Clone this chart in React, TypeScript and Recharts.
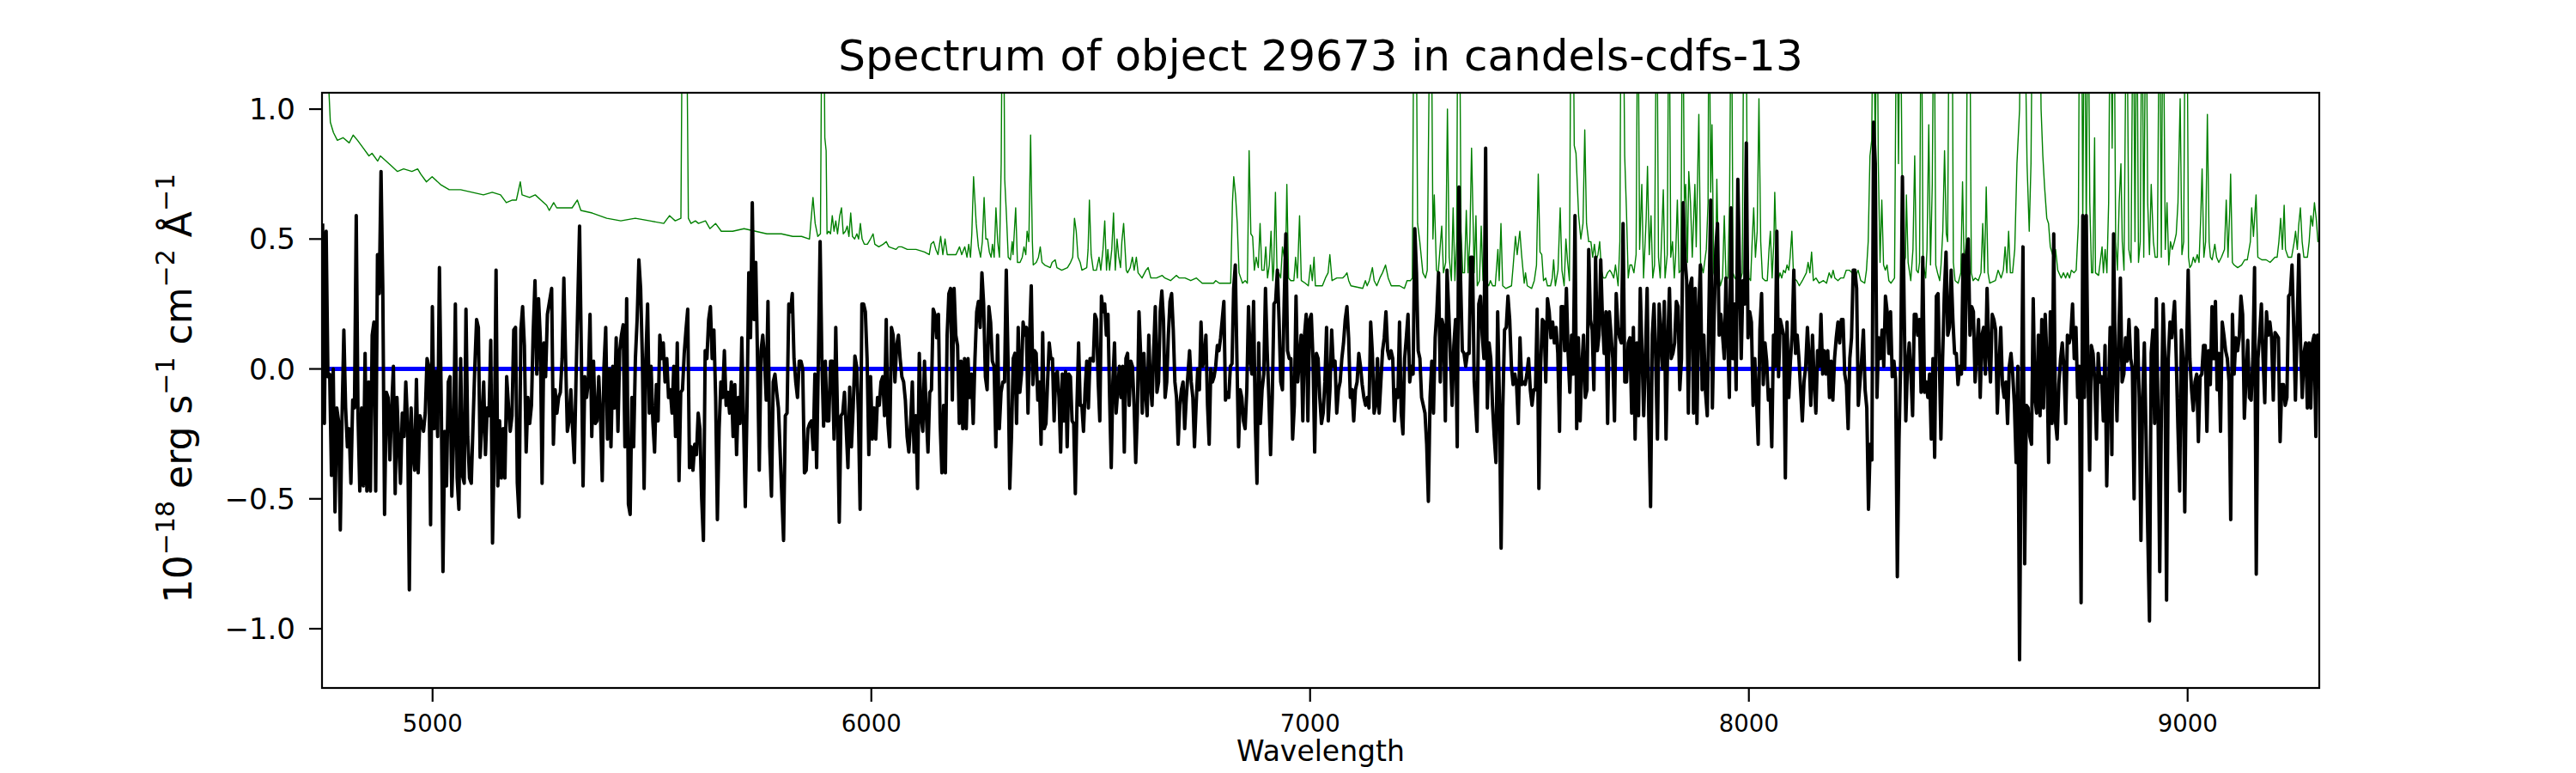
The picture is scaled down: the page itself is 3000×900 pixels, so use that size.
import { LineChart, Line, XAxis, YAxis } from "recharts"

// wavelength span covered by each block of flux samples (Angstrom)
const blackRanges = [
  [4749.4, 5261.7],
  [5271.4, 5788.3],
  [5800.0, 6323.4],
  [6327.3, 6848.1],
  [6851.9, 7374.0],
  [7380.5, 7909.1],
  [7913.0, 8431.2],
  [8437.7, 8963.7],
  [8970.2, 9300.0],
]

// observed flux, 1e-18 erg/s/cm2/A
const blackA = [0.56,-0.21,0.53,-0.03,-0.02,-0.41,0.00,-0.55,-0.15,-0.20,-0.62,-0.18,0.15,-0.15,-0.30,-0.23,-0.44,-0.12,-0.15,0.59,-0.18,-0.47,-0.15,-0.45,0.06,-0.47,-0.05,-0.47,0.13,0.18,-0.47,0.44,0.29,0.76,0.31,-0.56,-0.09,-0.11,-0.35,-0.15,0.01,-0.48,-0.11,-0.29,-0.44,-0.17,-0.26,-0.05,-0.21,-0.85,-0.15,-0.32,-0.39,-0.04,-0.40,-0.18,-0.21,-0.24,-0.17,0.04,0.01,-0.60,0.24,-0.23,-0.01,-0.26,0.39,-0.11,-0.78,-0.24,-0.45,-0.05,-0.03,-0.49,-0.27,0.25,-0.42,-0.54,0.04,-0.41,-0.44,0.23,-0.26,-0.42,-0.44,-0.21,0.01,0.19,0.16,-0.34,-0.21,-0.05,-0.33,-0.15,-0.18,0.11,-0.67,-0.29,0.38,-0.45,-0.20,-0.42,-0.23,-0.42,-0.03,-0.14,-0.24,-0.18,0.15,0.16,-0.44,-0.57,0.15,0.24,0.09,-0.32,-0.11,-0.21,-0.14,0.15,0.34,-0.02,0.27,0.12,-0.44,0.10,-0.03,0.21]
const blackB = [0.31,-0.29,-0.08,-0.17,-0.11,-0.09,0.04,0.35,0.04,-0.24,-0.20,-0.08,-0.23,-0.36,-0.03,0.26,0.55,0.07,-0.45,-0.03,-0.11,-0.05,0.21,-0.26,0.03,-0.21,-0.20,-0.03,-0.18,-0.43,0.01,0.16,-0.27,0.00,-0.30,0.01,-0.15,0.12,-0.24,0.07,0.13,0.17,-0.30,0.27,-0.52,-0.56,-0.11,-0.30,0.04,0.19,0.42,0.31,0.04,-0.46,0.04,0.25,-0.17,0.01,-0.20,-0.32,-0.06,-0.20,0.13,0.04,0.10,-0.05,0.04,-0.11,-0.08,-0.17,0.01,-0.26,0.10,-0.43,-0.09,-0.08,0.06,0.15,0.23,-0.38,-0.30,-0.39,-0.29,-0.33,-0.17,-0.23,-0.50,-0.66,0.07,0.04,0.19,0.24,0.04,0.15,-0.11,-0.58,-0.23,-0.05,-0.11,0.07,-0.14,-0.09,-0.17,-0.05,-0.26,-0.06,-0.33,-0.11,-0.21,0.12,-0.20,-0.53,-0.14,0.37,0.12,0.64,0.19,0.41,0.04,-0.39,0.07,0.13,0.04,-0.12,0.26,-0.30,-0.49,-0.05,-0.02,-0.09,-0.15]
const blackC = [-0.66,-0.18,-0.17,0.25,0.22,0.29,0.04,-0.05,-0.11,0.03,0.03,0.00,-0.40,-0.39,-0.23,-0.21,-0.20,-0.31,-0.02,-0.38,0.04,0.49,0.04,-0.22,0.03,-0.20,-0.20,0.03,0.03,-0.27,0.16,-0.18,-0.59,-0.18,-0.17,-0.09,-0.23,-0.38,-0.07,-0.30,-0.15,0.05,0.01,-0.17,-0.54,0.25,0.25,0.22,0.04,-0.33,-0.03,-0.27,-0.15,-0.27,-0.11,-0.14,-0.05,-0.03,-0.18,0.19,-0.21,-0.30,0.16,0.13,-0.05,0.09,0.13,0.04,-0.03,-0.05,-0.12,-0.26,-0.32,-0.21,-0.05,-0.32,-0.18,-0.46,0.06,-0.18,-0.24,0.03,-0.17,-0.32,-0.09,-0.08,0.23,0.21,0.12,0.21,-0.21,-0.40,-0.14,-0.40,0.13,0.29,0.31,-0.12,0.31,0.13,0.09,-0.21,0.03,-0.23,0.04,-0.23,0.04,-0.11,-0.02,-0.21,0.04,0.22,0.26,0.16,0.37,0.25,-0.03,-0.08,0.24,0.18,0.03,0.01,-0.30,0.13,-0.23,-0.09,-0.05,-0.05,0.38,0.04,-0.46,-0.26,0.04]
const blackD = [0.06,-0.21,0.16,-0.09,-0.02,0.18,0.13,0.16,-0.17,0.13,0.32,-0.06,0.07,0.06,-0.12,-0.05,-0.29,0.14,-0.23,-0.21,-0.05,0.10,0.04,0.04,-0.20,-0.02,-0.01,-0.11,-0.32,-0.02,-0.20,-0.01,-0.30,-0.02,-0.03,-0.20,-0.21,-0.48,-0.14,0.10,-0.14,-0.14,-0.24,-0.08,0.03,-0.15,0.04,0.04,0.03,0.21,0.19,-0.05,-0.20,0.28,0.22,0.25,0.13,0.21,-0.11,-0.38,-0.05,0.10,-0.17,-0.08,0.01,-0.11,0.01,-0.32,0.04,0.06,-0.14,0.03,0.01,-0.14,-0.36,-0.17,0.22,0.06,-0.17,0.06,-0.09,-0.18,0.13,-0.06,-0.14,0.07,0.24,-0.09,-0.05,0.22,0.30,0.19,-0.11,-0.05,0.13,0.26,0.29,0.15,-0.05,-0.11,-0.29,-0.14,-0.08,-0.05,-0.23,-0.11,-0.02,0.07,-0.05,-0.11,-0.30,-0.14,0.00,-0.08,0.18,0.01,0.04,0.13,-0.14,-0.29,0.00,-0.05,-0.03,0.01,0.09,0.07,0.12,0.19,0.26,-0.12,-0.09,-0.11,0.01,0.02,0.31,0.40,0.04,-0.30,-0.08,-0.11,-0.20]
const blackE = [-0.23,-0.08,0.24,0.04,-0.02,0.26,-0.21,-0.44,0.10,-0.21,-0.08,-0.02,0.31,0.07,-0.11,-0.33,-0.11,0.25,0.26,0.38,0.19,-0.05,-0.08,0.25,0.52,0.07,0.04,0.04,-0.27,-0.14,0.28,-0.05,0.04,0.13,-0.20,0.13,0.21,-0.20,0.19,0.21,0.04,-0.32,0.06,0.04,-0.11,-0.21,-0.17,-0.05,0.16,-0.20,-0.08,0.15,0.01,0.03,-0.17,-0.08,-0.05,0.04,0.10,0.19,0.24,0.12,-0.11,-0.08,-0.20,-0.08,-0.05,0.06,0.01,-0.06,-0.11,-0.14,-0.11,-0.15,0.18,0.06,-0.17,-0.14,0.04,-0.17,-0.05,0.07,0.12,0.22,0.07,0.04,0.07,0.04,-0.20,-0.08,-0.11,0.18,-0.17,-0.25,0.04,0.12,0.21,-0.05,0.01,-0.02,0.54,0.37,0.07,0.04,-0.11,-0.14,-0.17,-0.29,-0.51,-0.11,0.03,-0.17,0.12,0.22,0.37,-0.05,0.19,0.16,-0.20,0.38,0.22,0.04,-0.14,0.09,0.19,-0.30,0.70,0.34,0.07,0.06,0.01,0.06,0.06,0.43,0.43,-0.05]
const blackF = [-0.24,0.25,0.28,0.13,0.04,0.85,-0.15,0.10,0.04,-0.14,-0.26,-0.36,0.22,-0.11,-0.69,-0.15,0.15,0.16,0.28,0.19,0.01,-0.06,-0.02,-0.06,-0.21,0.12,-0.06,-0.05,-0.06,-0.02,0.04,-0.08,-0.14,-0.08,-0.08,0.23,-0.46,0.01,0.19,0.18,-0.05,0.27,0.22,0.12,0.18,0.10,0.16,0.06,-0.24,0.24,0.24,0.07,0.31,0.06,-0.09,0.13,-0.02,0.59,-0.23,0.12,-0.20,0.01,0.13,-0.11,-0.08,0.46,0.19,0.15,-0.08,0.43,0.07,0.13,0.42,0.19,0.06,0.22,-0.21,0.22,0.13,0.04,-0.20,0.29,0.16,0.12,0.10,0.56,-0.05,-0.05,0.10,0.12,-0.17,0.16,-0.27,0.10,-0.18,0.31,0.07,-0.18,0.04,0.31,-0.20,-0.53,0.13,0.25,0.04,-0.27,0.25,0.13,0.00,0.26,-0.27,0.10,0.31,0.04,0.06,0.10,0.26,0.24,-0.08,0.04,0.64,0.43,0.34,-0.17,0.32,0.35,-0.17,0.31,-0.21,0.22,0.40,-0.08,0.13,-0.09,-0.18,0.24]
const blackG = [0.65,-0.15,0.19,0.46,0.56,0.13,0.21,0.13,0.04,0.35,0.12,-0.11,0.62,0.04,0.25,-0.08,0.73,0.37,0.04,0.34,0.25,0.87,0.12,0.22,0.18,-0.14,0.04,-0.11,-0.29,0.15,0.29,-0.06,0.10,0.03,-0.12,-0.08,-0.30,0.13,0.01,0.53,-0.03,0.19,0.16,0.13,-0.42,0.18,-0.11,0.03,0.13,0.38,0.06,0.13,0.04,-0.08,-0.20,-0.05,0.01,0.16,0.04,-0.14,0.13,-0.05,-0.17,0.07,0.01,0.21,-0.02,0.07,-0.02,0.07,-0.11,0.03,-0.12,0.04,0.12,0.18,0.10,0.19,0.19,-0.02,-0.06,-0.23,0.04,0.12,0.38,0.38,0.31,-0.14,-0.05,0.04,0.15,-0.08,-0.15,-0.54,-0.29,-0.35,0.95,0.79,-0.11,0.12,0.04,0.15,0.01,0.28,0.22,0.06,0.22,-0.03,0.03,-0.04,-0.80,-0.27,0.04,0.74,0.24,-0.20,0.01,0.10,-0.02,-0.18,0.21,0.21,0.13,0.19,-0.09,0.43,-0.09,-0.05,-0.11,-0.02,-0.27,0.04,-0.34,0.28,0.29]
const blackH = [-0.27,0.04,0.29,0.45,0.13,0.16,0.38,0.19,0.06,0.06,-0.06,0.01,-0.02,0.44,0.00,0.44,0.50,0.13,0.24,0.22,-0.05,0.07,0.19,-0.11,0.13,0.16,-0.02,0.31,0.07,-0.05,0.21,0.19,0.15,-0.17,0.01,0.16,-0.06,-0.11,-0.05,-0.21,0.01,0.06,-0.02,-0.14,-0.36,0.01,-1.12,-0.21,0.47,-0.75,-0.14,-0.15,-0.26,-0.29,0.27,-0.11,-0.17,0.13,-0.18,0.19,-0.15,0.21,0.04,-0.36,0.22,-0.21,0.52,-0.20,-0.27,-0.06,0.04,0.10,0.00,-0.21,0.13,0.10,0.13,0.25,0.04,0.16,-0.11,0.01,-0.90,0.59,-0.11,0.59,0.00,-0.39,0.09,0.06,-0.05,-0.27,0.06,-0.05,-0.03,-0.20,0.09,-0.45,-0.11,0.16,-0.33,0.52,0.01,-0.20,0.12,0.35,-0.05,-0.02,0.12,0.03,0.19,0.04,0.00,-0.50,0.16,0.15,-0.11,-0.66,-0.11,0.10,-0.26,-0.63,-0.97,0.06,0.15,-0.21,0.27,-0.17,-0.78,-0.15,0.25,0.04,-0.89,0.04,0.18,0.12]
const blackI = [0.26,0.04,-0.23,-0.47,0.15,0.04,-0.55,0.04,0.38,0.04,-0.08,-0.16,-0.05,-0.02,-0.28,-0.03,-0.02,0.09,0.09,-0.24,0.07,-0.06,0.24,0.04,0.26,-0.08,0.06,-0.24,0.18,0.13,0.07,0.04,-0.05,-0.58,0.21,-0.02,0.12,0.07,0.12,0.28,0.21,-0.19,-0.03,0.11,-0.11,-0.12,0.04,0.39,-0.79,0.04,0.13,0.25,0.04,-0.13,0.22,0.13,0.18,0.12,-0.12,0.14,0.13,0.12,-0.28,-0.06,-0.06,-0.14,-0.11,0.28,0.29,0.40,0.16,-0.12,0.16,0.44,0.10,-0.11,0.06,0.10,-0.15,0.10,-0.15,0.10,0.13,-0.26,0.13,0.04]

// noise spectrum: [wavelength, flux]; sky lines run off the top
const greenA = [[4749,1.4],[4764,1.06],[4767,0.95],[4774,0.91],[4783,0.88],[4796,0.89],[4810,0.87],[4819,0.90],[4829,0.88],[4842,0.85],[4855,0.82],[4862,0.83],[4875,0.80],[4881,0.82],[4894,0.80],[4907,0.78],[4920,0.76],[4934,0.77],[4953,0.76],[4966,0.77],[4973,0.75],[4986,0.72],[4999,0.74],[5018,0.71],[5038,0.69],[5064,0.69],[5090,0.68],[5116,0.67],[5136,0.68],[5155,0.67],[5168,0.64],[5182,0.65],[5191,0.65],[5200,0.72],[5204,0.67],[5221,0.66],[5234,0.67],[5247,0.65],[5260,0.63],[5266,0.61]]
const greenB = [[5276,0.64],[5283,0.62],[5299,0.62],[5318,0.62],[5330,0.65],[5338,0.61],[5364,0.60],[5397,0.58],[5429,0.57],[5462,0.58],[5495,0.57],[5527,0.56],[5540,0.59],[5553,0.57],[5566,0.58],[5570,1.6],[5578,1.6],[5583,0.58],[5589,0.56],[5599,0.57],[5606,0.56],[5622,0.57],[5632,0.54],[5645,0.56],[5658,0.53],[5684,0.53],[5710,0.54],[5736,0.53],[5762,0.52],[5788,0.52]]
const greenC = [[5795,0.52],[5821,0.51],[5841,0.51],[5859,0.50],[5863,0.58],[5867,0.66],[5872,0.56],[5878,0.51],[5884,0.52],[5888,1.6],[5891,1.6],[5894,0.89],[5897,0.84],[5899,0.52],[5903,0.53],[5907,0.52],[5911,0.59],[5915,0.53],[5919,0.57],[5923,0.52],[5928,0.59],[5932,0.62],[5936,0.52],[5941,0.53],[5945,0.55],[5949,0.51],[5953,0.60],[5957,0.51],[5962,0.50],[5967,0.52],[5971,0.50],[5975,0.56],[5979,0.50],[5984,0.48],[5991,0.48],[5998,0.50],[6004,0.52],[6008,0.48],[6017,0.47],[6027,0.48],[6034,0.49],[6040,0.47],[6056,0.46],[6062,0.47],[6069,0.47],[6082,0.46],[6102,0.46],[6121,0.45],[6132,0.44],[6136,0.48],[6142,0.49],[6147,0.46],[6152,0.44],[6158,0.51],[6163,0.44],[6168,0.50],[6173,0.44],[6186,0.44],[6193,0.44],[6201,0.47],[6206,0.44],[6213,0.47],[6218,0.43],[6222,0.48],[6226,0.43],[6229,0.52],[6233,0.74],[6239,0.56],[6244,0.47],[6249,0.43],[6253,0.49],[6257,0.66],[6261,0.50],[6265,0.50],[6269,0.45],[6273,0.43],[6276,0.48],[6280,0.43],[6284,0.62],[6288,0.49],[6292,0.43],[6296,0.79],[6299,1.6],[6301,1.6],[6304,0.73],[6308,0.59],[6312,0.43],[6317,0.42],[6321,0.49],[6323,0.44]]
const greenD = [[6329,0.62],[6333,0.41],[6339,0.41],[6344,0.43],[6348,0.47],[6352,0.44],[6355,0.53],[6359,0.49],[6363,0.90],[6367,0.49],[6369,0.40],[6376,0.41],[6381,0.43],[6385,0.47],[6389,0.41],[6395,0.40],[6408,0.39],[6412,0.41],[6419,0.42],[6423,0.39],[6434,0.38],[6447,0.39],[6454,0.41],[6459,0.43],[6463,0.58],[6467,0.53],[6471,0.43],[6476,0.41],[6480,0.38],[6491,0.39],[6494,0.46],[6497,0.65],[6501,0.44],[6506,0.38],[6513,0.38],[6519,0.43],[6523,0.38],[6528,0.46],[6532,0.57],[6536,0.38],[6539,0.46],[6543,0.38],[6548,0.46],[6552,0.60],[6556,0.38],[6560,0.50],[6564,0.43],[6568,0.39],[6571,0.49],[6575,0.56],[6581,0.38],[6584,0.37],[6590,0.39],[6595,0.43],[6599,0.38],[6604,0.43],[6608,0.37],[6617,0.35],[6626,0.38],[6631,0.39],[6637,0.35],[6650,0.35],[6663,0.36],[6669,0.35],[6682,0.34],[6695,0.36],[6702,0.35],[6715,0.35],[6728,0.34],[6741,0.35],[6754,0.33],[6767,0.33],[6780,0.33],[6785,0.34],[6793,0.33],[6819,0.33],[6823,0.64],[6826,0.74],[6830,0.67],[6834,0.56],[6838,0.37],[6846,0.33],[6852,0.34]]
const greenE = [[6857,0.33],[6861,0.84],[6865,0.52],[6869,0.51],[6873,0.38],[6877,0.43],[6882,0.39],[6886,0.56],[6890,0.38],[6895,0.38],[6899,0.47],[6903,0.35],[6907,0.40],[6911,0.53],[6915,0.34],[6917,0.38],[6921,0.68],[6925,0.34],[6929,0.37],[6933,0.35],[6937,0.47],[6941,0.43],[6945,0.50],[6947,0.71],[6951,0.35],[6956,0.34],[6963,0.34],[6967,0.43],[6971,0.35],[6976,0.59],[6980,0.34],[6989,0.33],[6996,0.32],[7001,0.40],[7005,0.34],[7009,0.43],[7012,0.32],[7028,0.32],[7035,0.35],[7041,0.37],[7045,0.44],[7050,0.34],[7061,0.35],[7074,0.35],[7080,0.36],[7084,0.37],[7088,0.34],[7093,0.32],[7120,0.31],[7126,0.34],[7130,0.32],[7135,0.34],[7142,0.39],[7146,0.34],[7152,0.32],[7159,0.35],[7165,0.37],[7172,0.40],[7178,0.35],[7185,0.32],[7198,0.32],[7204,0.32],[7215,0.31],[7221,0.34],[7229,0.34],[7233,0.35],[7237,1.6],[7241,1.6],[7245,0.56],[7250,0.49],[7257,0.37],[7263,0.35],[7267,0.38],[7274,1.6],[7276,1.5],[7280,0.50],[7283,0.67],[7288,0.38],[7292,0.37],[7296,0.46],[7300,0.55],[7304,0.37],[7309,0.41],[7313,1.0],[7317,0.43],[7322,0.34],[7326,0.62],[7330,0.34],[7334,0.49],[7337,1.6],[7340,1.6],[7344,0.53],[7348,0.37],[7352,0.37],[7356,0.61],[7360,0.37],[7364,0.49],[7368,0.85],[7374,0.37],[7378,0.59]]
const greenF = [[7381,0.32],[7386,0.34],[7390,0.55],[7394,0.34],[7400,0.34],[7407,0.32],[7411,0.34],[7416,0.32],[7422,0.32],[7428,0.46],[7431,0.34],[7435,0.56],[7439,0.32],[7446,0.31],[7459,0.32],[7463,0.40],[7468,0.51],[7472,0.44],[7478,0.53],[7482,0.44],[7488,0.33],[7491,0.37],[7495,0.32],[7505,0.31],[7511,0.34],[7516,0.40],[7520,0.75],[7524,0.45],[7528,0.44],[7532,0.34],[7537,0.35],[7541,0.32],[7548,0.32],[7552,0.35],[7555,0.42],[7559,0.32],[7565,0.38],[7570,0.62],[7574,0.38],[7579,0.32],[7583,0.50],[7587,0.41],[7591,0.34],[7595,1.6],[7599,1.6],[7602,0.86],[7606,0.83],[7612,0.59],[7617,0.50],[7622,0.56],[7626,0.92],[7630,0.56],[7635,0.49],[7640,0.49],[7644,0.43],[7648,0.48],[7652,0.42],[7656,0.44],[7660,0.49],[7664,0.38],[7668,0.35],[7673,0.35],[7678,0.37],[7683,0.38],[7687,0.37],[7692,0.35],[7696,0.40],[7702,0.32],[7706,0.49],[7709,1.6],[7713,1.6],[7717,0.82],[7721,0.61],[7725,0.35],[7729,0.40],[7733,0.40],[7738,0.37],[7743,0.44],[7747,1.6],[7751,0.46],[7756,0.71],[7760,0.35],[7766,0.58],[7769,0.78],[7773,0.44],[7777,0.59],[7781,0.35],[7785,0.40],[7790,1.6],[7794,0.43],[7798,0.35],[7805,0.69],[7809,0.35],[7814,0.44],[7818,1.6],[7822,0.43],[7826,0.49],[7830,0.35],[7833,0.43],[7837,0.65],[7841,0.37],[7845,0.38],[7849,1.6],[7853,0.64],[7856,0.71],[7860,0.41],[7863,0.76],[7867,0.64],[7871,0.43],[7877,0.71],[7880,0.47],[7886,0.98],[7890,0.41],[7896,0.37],[7903,0.46],[7907,0.64]]
const greenG = [[7909,1.6],[7913,0.68],[7916,0.94],[7920,0.37],[7924,0.34],[7927,0.73],[7931,0.37],[7935,0.32],[7940,0.35],[7944,0.59],[7948,0.34],[7952,0.35],[7956,0.64],[7960,1.6],[7964,0.37],[7968,0.35],[7972,0.34],[7977,0.38],[7981,0.34],[7985,0.37],[7989,1.6],[7993,1.6],[7997,0.49],[8000,0.35],[8004,0.34],[8007,0.47],[8011,0.62],[8015,0.43],[8019,0.53],[8023,1.04],[8027,0.49],[8031,0.35],[8037,0.34],[8042,0.34],[8046,0.46],[8049,0.53],[8053,0.35],[8057,0.49],[8059,0.68],[8063,0.44],[8067,0.34],[8071,0.37],[8075,0.35],[8079,0.38],[8083,0.37],[8087,0.40],[8091,0.38],[8094,0.43],[8098,0.53],[8102,0.35],[8109,0.34],[8115,0.32],[8122,0.34],[8131,0.37],[8135,0.41],[8139,0.37],[8143,0.45],[8147,0.34],[8153,0.35],[8160,0.33],[8170,0.34],[8177,0.33],[8183,0.37],[8188,0.35],[8192,0.38],[8196,0.35],[8203,0.34],[8209,0.35],[8216,0.35],[8222,0.38],[8229,0.38],[8235,0.37],[8242,0.35],[8249,0.38],[8255,0.34],[8264,0.33],[8268,0.38],[8272,0.49],[8276,0.82],[8280,0.88],[8284,1.6],[8288,0.80],[8292,1.6],[8295,0.79],[8299,0.41],[8303,0.65],[8307,0.40],[8311,0.38],[8315,0.40],[8319,0.34],[8324,0.33],[8332,0.35],[8337,1.6],[8341,0.79],[8345,1.6],[8349,0.76],[8353,0.40],[8357,0.43],[8359,0.67],[8363,0.41],[8369,0.34],[8374,0.46],[8378,0.82],[8382,0.38],[8386,0.37],[8389,0.41],[8393,1.6],[8397,0.41],[8403,0.35],[8406,0.46],[8410,0.94],[8414,0.40],[8418,0.71],[8422,1.6],[8426,0.40],[8430,0.37],[8435,0.34]]
const greenH = [[8438,0.40],[8442,0.53],[8446,0.84],[8450,0.52],[8453,0.49],[8457,1.6],[8463,1.6],[8466,0.41],[8470,0.34],[8477,0.33],[8483,0.37],[8487,0.72],[8491,0.37],[8495,0.49],[8499,1.6],[8503,1.6],[8507,0.37],[8511,0.34],[8516,0.35],[8523,0.34],[8529,0.37],[8533,0.56],[8537,0.37],[8541,0.70],[8545,0.37],[8549,0.33],[8562,0.34],[8568,0.38],[8575,0.35],[8580,0.38],[8584,0.47],[8588,0.37],[8592,0.53],[8596,0.37],[8601,0.37],[8606,0.46],[8611,0.79],[8617,1.0],[8620,1.6],[8627,1.6],[8634,0.79],[8639,0.53],[8643,0.79],[8647,1.6],[8662,1.6],[8666,1.0],[8670,0.82],[8674,0.70],[8679,0.58],[8683,0.56],[8687,0.47],[8694,0.43],[8699,0.46],[8704,0.38],[8712,0.35],[8717,0.37],[8722,0.35],[8726,0.37],[8731,0.35],[8735,0.38],[8741,0.37],[8746,0.38],[8751,0.56],[8754,1.6],[8758,1.6],[8761,0.56],[8765,1.6],[8769,0.52],[8773,1.6],[8777,0.64],[8781,0.37],[8784,0.37],[8788,0.89],[8790,0.37],[8797,0.36],[8805,0.47],[8808,0.37],[8812,0.46],[8816,0.37],[8820,0.64],[8824,1.6],[8828,0.85],[8832,1.6],[8836,0.49],[8840,0.38],[8844,0.64],[8848,0.79],[8851,0.49],[8855,0.38],[8861,1.6],[8866,0.46],[8871,0.41],[8876,1.6],[8880,0.49],[8884,1.6],[8888,0.41],[8892,0.49],[8896,1.6],[8900,0.43],[8905,1.6],[8909,0.64],[8913,0.44],[8917,0.71],[8922,0.49],[8926,0.43],[8931,0.43],[8936,1.6],[8940,0.43],[8944,1.6],[8949,0.46],[8953,0.64],[8957,0.40],[8961,0.49],[8965,0.46]]
const greenI = [[8970,0.49],[8974,0.52],[8978,0.64],[8983,1.04],[8987,0.44],[8991,0.49],[8995,1.6],[8998,1.6],[9002,0.43],[9005,0.39],[9009,0.40],[9013,0.43],[9017,0.41],[9022,0.44],[9026,0.41],[9030,0.59],[9033,0.77],[9037,0.43],[9041,0.49],[9045,0.98],[9049,0.49],[9052,0.43],[9056,0.42],[9062,0.48],[9066,0.43],[9071,0.41],[9077,0.43],[9084,0.46],[9088,0.65],[9092,0.43],[9096,0.61],[9098,0.75],[9102,0.41],[9106,0.40],[9114,0.39],[9123,0.40],[9130,0.42],[9136,0.42],[9143,0.49],[9146,0.62],[9150,0.51],[9156,0.67],[9160,0.43],[9169,0.42],[9179,0.42],[9188,0.41],[9199,0.43],[9204,0.43],[9208,0.49],[9212,0.58],[9216,0.46],[9220,0.63],[9223,0.46],[9229,0.43],[9237,0.43],[9243,0.49],[9246,0.53],[9250,0.46],[9253,0.55],[9257,0.62],[9261,0.49],[9265,0.43],[9273,0.43],[9277,0.49],[9281,0.59],[9285,0.55],[9289,0.64],[9293,0.58],[9297,0.49],[9300,0.50]]

// model: flat at zero
const modelWave = [4748, 9300]
const modelFlux = [0, 0]

const xTicks = [5000, 6000, 7000, 8000, 9000]
const yTicks = [-1.0, -0.5, 0.0, 0.5, 1.0]
const xDomain = [4748, 9300]
const yDomain = [-1.228, 1.063]

const blackParts = [blackA, blackB, blackC, blackD, blackE, blackF, blackG, blackH, blackI]
const spectrum = blackParts.flatMap((vals, k) => {
  const [a, b] = blackRanges[k]
  return vals.map((f, i) => ({ w: a + ((b - a) * i) / (vals.length - 1), f }))
})
const noise = [greenA, greenB, greenC, greenD, greenE, greenF, greenG, greenH, greenI]
  .flat()
  .map(([w, f]) => ({ w, f }))
const model = modelWave.map((w, i) => ({ w, f: modelFlux[i] }))

const font = "DejaVu Sans, sans-serif"
const fmtY = (v: number) => (v < 0 ? "\u2212" : "") + Math.abs(v).toFixed(1)

export default function App() {
  return (
    <div style={{ position: "absolute", left: 0, top: 0, width: 3000, height: 900, background: "#fff", fontFamily: font }}>
      <LineChart width={3000} height={900} margin={{ top: 108, right: 299, bottom: 29, left: 255 }}>
        <XAxis
          dataKey="w"
          type="number"
          domain={xDomain}
          allowDataOverflow
          ticks={xTicks}
          tick={{ fontSize: 27.5, fill: "#000", fontFamily: font }}
          tickLine={{ stroke: "#000", strokeWidth: 2.2 }}
          axisLine={false}
          tickSize={16}
          tickMargin={15}
          height={70}
        />
        <YAxis
          dataKey="f"
          type="number"
          domain={yDomain}
          allowDataOverflow
          ticks={yTicks}
          tickFormatter={fmtY}
          tick={{ fontSize: 34, fill: "#000", fontFamily: font }}
          tickLine={{ stroke: "#000", strokeWidth: 2.2 }}
          axisLine={false}
          tickSize={15}
          tickMargin={16}
          width={120}
        />
        <Line data={noise} dataKey="f" type="linear" stroke="#008000" strokeWidth={1.4} dot={false} activeDot={false} isAnimationActive={false} strokeLinejoin="round" />
        <Line data={model} dataKey="f" type="linear" stroke="#0000ff" strokeWidth={5} dot={false} activeDot={false} isAnimationActive={false} />
        <Line data={spectrum} dataKey="f" type="linear" stroke="#000000" strokeWidth={4} dot={false} activeDot={false} isAnimationActive={false} strokeLinejoin="round" />
      </LineChart>
      <svg width={3000} height={900} style={{ position: "absolute", left: 0, top: 0, pointerEvents: "none" }}>
        <rect x={375} y={108} width={2326} height={693} fill="none" stroke="#000" strokeWidth={2.2} />
        <text x={1538} y={82} textAnchor="middle" fontSize={50} fontFamily={font} fill="#000">
          Spectrum of object 29673 in candels-cdfs-13
        </text>
        <text x={1538} y={886} textAnchor="middle" fontSize={33} fontFamily={font} fill="#000">
          Wavelength
        </text>
        <text
          transform="translate(223,452) rotate(-90)"
          textAnchor="middle"
          fontSize={44}
          fontFamily={font}
          fill="#000"
          style={{ whiteSpace: "pre" }}
        >
          <tspan>10</tspan>
          <tspan fontSize={30} dy={-20}>{"\u221218"}</tspan>
          <tspan dy={20}>{" erg s"}</tspan>
          <tspan fontSize={30} dy={-20}>{"\u22121"}</tspan>
          <tspan dy={20}>{" cm"}</tspan>
          <tspan fontSize={30} dy={-20}>{"\u22122"}</tspan>
          <tspan dy={20}>{" \u00c5"}</tspan>
          <tspan fontSize={30} dy={-20}>{"\u22121"}</tspan>
        </text>
      </svg>
    </div>
  )
}
